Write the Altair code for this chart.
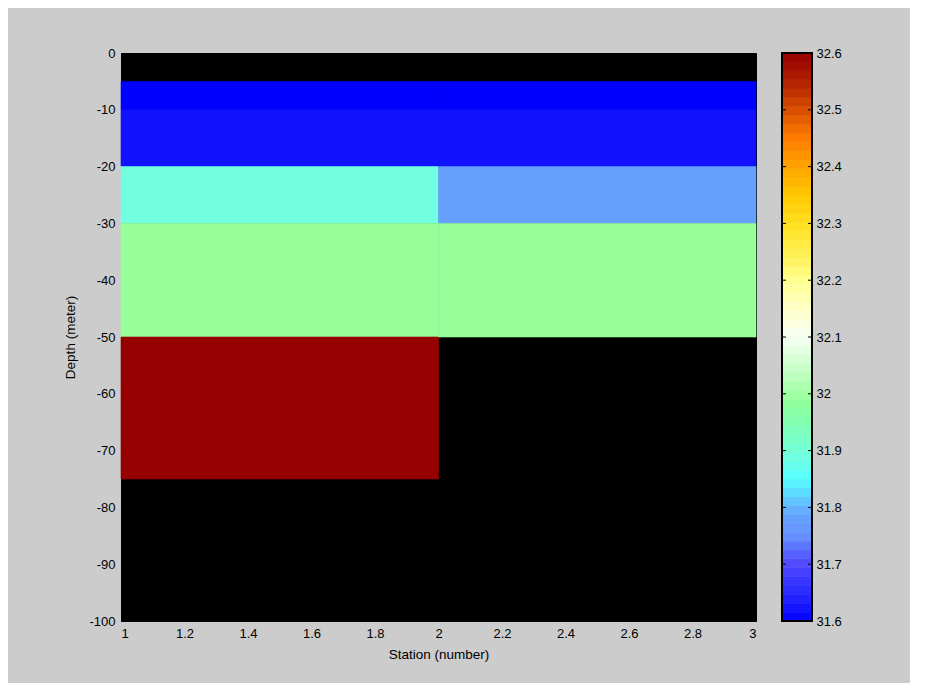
import altair as alt
import pandas as pd
import numpy as np

# ---- data ----
station_lo = [1, 2]
station_hi = [2, 3]
depth_top = [0, -5, -10, -20, -30, -50, -75]
depth_bot = [-5, -10, -20, -30, -50, -75, -100]
sal_st1 = [None, 31.60, 31.62, 31.89, 31.99, 32.60, None]
sal_st2 = [None, 31.60, 31.62, 31.78, 31.99, None, None]

# colormap anchors (value -> colour)
cmap_vals = [31.60, 31.65, 31.70, 31.75, 31.78, 31.80, 31.85, 31.89, 31.95, 31.99,
             32.05, 32.10, 32.15, 32.20, 32.25, 32.30, 32.35, 32.40, 32.45, 32.50,
             32.55, 32.60]
cmap_cols = ["#0000ff", "#2a2aff", "#5048ff", "#6690ff", "#66a0ff", "#66b4ff",
             "#55ffff", "#72ffe0", "#80ffb0", "#96ff9a", "#ccffcc", "#f8fff4",
             "#ffffc8", "#ffff90", "#ffef50", "#ffe020", "#ffc800", "#ffa400",
             "#ff7c00", "#d85000", "#b02000", "#960000"]
cbar_ticks = [31.6, 31.7, 31.8, 31.9, 32.0, 32.1, 32.2, 32.3, 32.4, 32.5, 32.6]
y_ticks = [0, -10, -20, -30, -40, -50, -60, -70, -80, -90, -100]
x_ticks = [1, 1.2, 1.4, 1.6, 1.8, 2, 2.2, 2.4, 2.6, 2.8, 3]

rows = []
for sal, xl, xh in ((sal_st1, station_lo[0], station_hi[0]), (sal_st2, station_lo[1], station_hi[1])):
    for t, b, v in zip(depth_top, depth_bot, sal):
        if v is not None:
            rows.append({"x": xl, "x2": xh, "y": t, "y2": b, "s": v})
cells = pd.DataFrame(rows)

# colorbar: 64 colour steps like the reference's colormap
edges = np.linspace(31.6, 32.6, 65)
cbar = pd.DataFrame({"lo": edges[:-1], "hi": edges[1:], "s": (edges[:-1] + edges[1:]) / 2})
tickdf = pd.DataFrame({"v": cbar_ticks})

FONT = "Liberation Sans"
color_scale = alt.Scale(domain=cmap_vals, range=cmap_cols, interpolate="rgb")

main = alt.Chart(cells).mark_rect(strokeWidth=0.6).encode(
    x=alt.X("x:Q", scale=alt.Scale(domain=[1, 3], nice=False, zero=False),
            axis=alt.Axis(values=x_ticks, format="~g", title="Station (number)", grid=False,
                          ticks=False, labelPadding=6, titlePadding=7, domainColor="black")),
    x2="x2:Q",
    y=alt.Y("y:Q", scale=alt.Scale(domain=[-100, 0], nice=False, zero=False),
            axis=alt.Axis(values=y_ticks, labelExpr="toString(datum.value)", title="Depth (meter)",
                          grid=False, ticks=False, labelPadding=6, titlePadding=11, domainColor="black")),
    y2="y2:Q",
    color=alt.Color("s:Q", scale=color_scale, legend=None),
    stroke=alt.Color("s:Q", scale=color_scale, legend=None),
).properties(width=635, height=568, view=alt.ViewBackground(fill="black", stroke="black"))

cb_y = alt.Scale(domain=[31.6, 32.6], nice=False, zero=False)
cb_rect = alt.Chart(cbar).mark_rect(strokeWidth=0.6).encode(
    x=alt.value(0), x2=alt.value(30),
    y=alt.Y("lo:Q", scale=cb_y,
            axis=alt.Axis(orient="right", values=cbar_ticks, labelExpr="toString(datum.value)",
                          title=None, grid=False, ticks=False, labelPadding=4, domain=False)),
    y2="hi:Q",
    color=alt.Color("s:Q", scale=color_scale, legend=None),
    stroke=alt.Color("s:Q", scale=color_scale, legend=None),
)
cb_tl = alt.Chart(tickdf).mark_rule(color="black").encode(
    x=alt.value(0), x2=alt.value(4), y=alt.Y("v:Q", scale=cb_y))
cb_tr = alt.Chart(tickdf).mark_rule(color="black").encode(
    x=alt.value(26), x2=alt.value(30), y=alt.Y("v:Q", scale=cb_y))
cb_box = alt.Chart(tickdf).mark_rect(fill=None, stroke="black", strokeWidth=1.5).encode(
    x=alt.value(0), x2=alt.value(30), y=alt.value(0), y2=alt.value(568))
colorbar = alt.layer(cb_rect, cb_tl, cb_tr, cb_box).properties(
    width=30, height=568, view=alt.ViewBackground(fill=None, stroke=None))

chart = alt.hconcat(main, colorbar, spacing=24).properties(
    background="#cccccc",
    padding={"left": 55, "top": 38, "right": 68, "bottom": 22},
).configure_axis(
    labelFont=FONT, titleFont=FONT, labelFontSize=13, titleFontSize=13.5,
    labelColor="black", titleColor="black", titleFontWeight="normal",
).configure_view(strokeWidth=1)

chart.save("out.html", embed_options={"renderer": "svg", "actions": False})
